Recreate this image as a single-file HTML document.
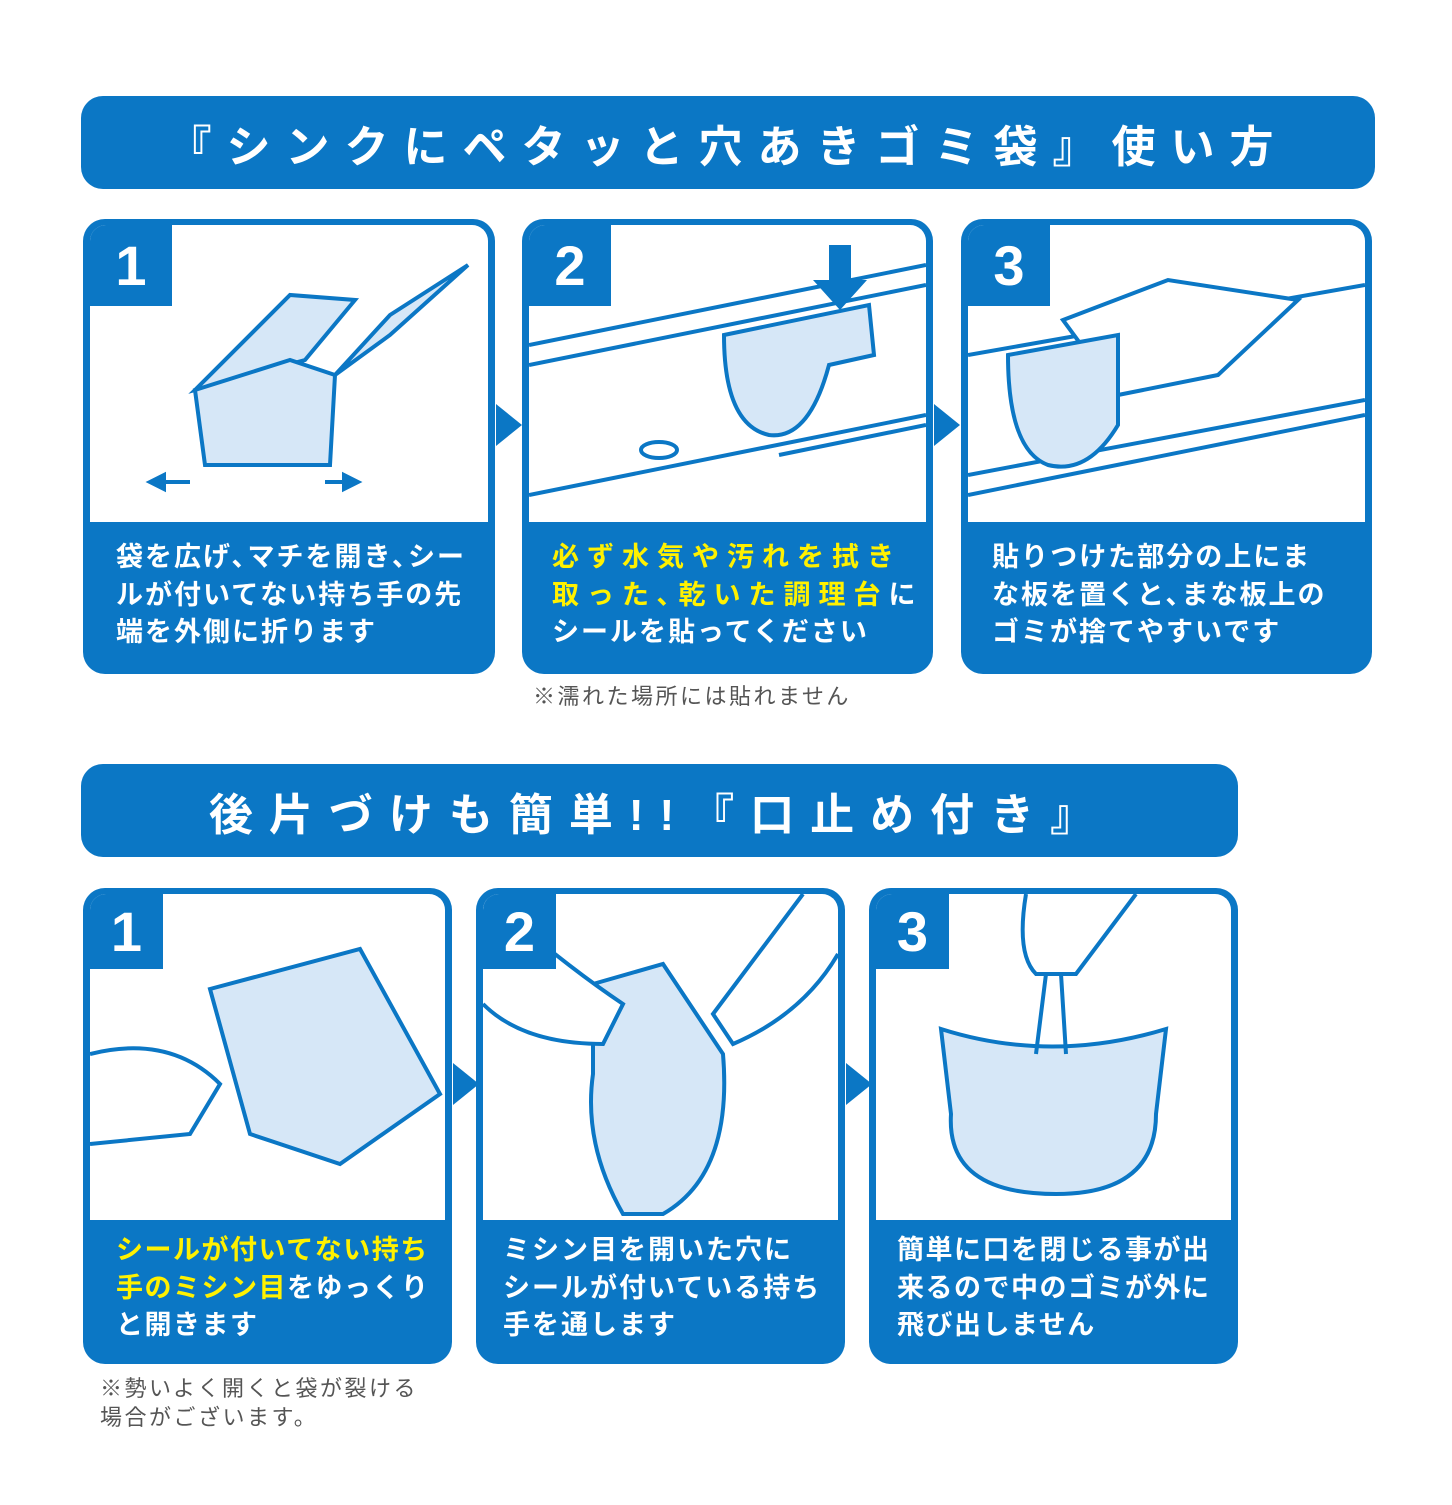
<!DOCTYPE html>
<html><head><meta charset="utf-8"><style>
body{margin:0;width:1452px;height:1505px;background:#fff;position:relative;font-family:"Liberation Sans","Noto Sans CJK JP",sans-serif;overflow:hidden}
.hdr{position:absolute;background:#0b77c5;border-radius:22px;color:#fff;font-weight:bold;font-size:44px;display:flex;align-items:center;justify-content:center}
.p{position:absolute;background:#0b77c5;border-radius:22px}
.w{position:absolute;left:7px;right:7px;top:6px;background:#fff;border-radius:16px 16px 0 0;overflow:hidden}
.n{position:absolute;left:0;top:0;background:#0b77c5;color:#fff;font-weight:bold;font-size:56px;display:flex;align-items:center;justify-content:center}
.t{position:absolute;left:33px;color:#fff;font-weight:bold;font-size:27px;line-height:37.5px;white-space:nowrap;letter-spacing:2px}
.y{color:#fff100}
.ar{position:absolute;width:0;height:0;border-top:21px solid transparent;border-bottom:21px solid transparent;border-left:26px solid #0b77c5}
.note{position:absolute;color:#555;font-size:22px;line-height:29px;letter-spacing:2.5px}
svg{position:absolute;left:0;top:0}
</style></head><body>
<div class="hdr" style="left:81px;top:96px;width:1294px;height:93px;letter-spacing:15px">『シンクにペタッと穴あきゴミ袋』使い方</div>

<div class="p" style="left:83px;top:219px;width:412px;height:455px">
 <div class="w" style="height:297px">
  <svg width="398" height="297"><g fill="#d6e7f7" stroke="#0b77c5" stroke-width="4"><path d="M105 165 L200 70 L265 75 L215 135 Z"/><path d="M105 165 L200 135 L245 150 L240 240 L115 240 Z"/><path d="M245 150 L300 90 L378 40 L300 110 Z"/></g>
  <g stroke="#0b77c5" stroke-width="4" fill="#0b77c5"><line x1="70" y1="257" x2="100" y2="257"/><path d="M60 257 L74 250 L74 264Z"/><line x1="235" y1="257" x2="258" y2="257"/><path d="M268 257 L254 250 L254 264Z"/></g></svg>
  <div class="n" style="width:82px;height:81px">1</div>
 </div>
 <div class="t" style="top:320px">袋を広げ､マチを開き､シー<br>ルが付いてない持ち手の先<br>端を外側に折ります</div>
</div>
<div class="ar" style="left:496px;top:404px"></div>

<div class="p" style="left:522px;top:219px;width:411px;height:455px">
 <div class="w" style="height:297px">
  <svg width="397" height="297"><g fill="none" stroke="#0b77c5" stroke-width="4"><path d="M0 120 L397 40"/><path d="M0 140 L397 60"/><path d="M0 270 L397 190"/><path d="M250 230 L397 200"/></g>
  <path d="M195 110 L340 80 L345 130 L300 140 Q280 215 240 210 Q195 200 195 110Z" fill="#d6e7f7" stroke="#0b77c5" stroke-width="4"/>
  <ellipse cx="130" cy="225" rx="18" ry="8" fill="none" stroke="#0b77c5" stroke-width="4"/>
  <path d="M300 20 h22 v35 h16 l-27 30 l-27 -30 h16z" fill="#0b77c5"/></svg>
  <div class="n" style="width:82px;height:81px">2</div>
 </div>
 <div class="t" style="top:320px;left:30px"><span class="y" style="letter-spacing:8px">必ず水気や汚れを拭き<br>取った､乾いた調理台</span>に<br>シールを貼ってください</div>
</div>
<div class="ar" style="left:934px;top:404px"></div>

<div class="p" style="left:961px;top:219px;width:411px;height:455px">
 <div class="w" style="height:297px">
  <svg width="397" height="297"><g fill="none" stroke="#0b77c5" stroke-width="4"><path d="M0 130 L397 60"/><path d="M0 270 L397 190"/><path d="M0 250 L397 175"/></g>
  <path d="M95 95 L200 55 L330 75 L250 150 L150 170Z" fill="#fff" stroke="#0b77c5" stroke-width="4"/>
  <path d="M40 130 L150 110 L150 200 Q120 250 80 240 Q40 225 40 130Z" fill="#d6e7f7" stroke="#0b77c5" stroke-width="4"/></svg>
  <div class="n" style="width:82px;height:81px">3</div>
 </div>
 <div class="t" style="top:320px;left:31px;letter-spacing:2px">貼りつけた部分の上にま<br>な板を置くと､まな板上の<br>ゴミが捨てやすいです</div>
</div>
<div class="note" style="left:533px;top:682px">※濡れた場所には貼れません</div>

<div class="hdr" style="left:81px;top:764px;width:1157px;height:93px;letter-spacing:16px">後片づけも簡単!!『口止め付き』</div>

<div class="p" style="left:83px;top:888px;width:369px;height:476px">
 <div class="w" style="height:326px">
  <svg width="355" height="326"><path d="M120 95 L270 55 L350 200 L250 270 L160 240 Z" fill="#d6e7f7" stroke="#0b77c5" stroke-width="4"/><path d="M0 160 Q80 140 130 190 L100 240 L0 250" fill="#fff" stroke="#0b77c5" stroke-width="4"/></svg>
  <div class="n" style="width:73px;height:75px">1</div>
 </div>
 <div class="t" style="top:344px;letter-spacing:1.5px"><span class="y">シールが付いてない持ち<br>手のミシン目</span>をゆっくり<br>と開きます</div>
</div>
<div class="ar" style="left:453px;top:1063px"></div>

<div class="p" style="left:476px;top:888px;width:369px;height:476px">
 <div class="w" style="height:326px">
  <svg width="355" height="326"><path d="M110 90 L180 70 L240 160 Q250 280 180 320 L140 320 Q100 250 110 180Z" fill="#d6e7f7" stroke="#0b77c5" stroke-width="4"/><path d="M0 0 Q80 70 140 110 L120 150 Q40 150 0 110" fill="#fff" stroke="#0b77c5" stroke-width="4"/><path d="M320 0 Q260 80 230 120 L250 150 Q320 120 355 60" fill="#fff" stroke="#0b77c5" stroke-width="4"/></svg>
  <div class="n" style="width:73px;height:75px">2</div>
 </div>
 <div class="t" style="top:344px;left:27px;letter-spacing:2px">ミシン目を開いた穴に<br>シールが付いている持ち<br>手を通します</div>
</div>
<div class="ar" style="left:846px;top:1063px"></div>

<div class="p" style="left:869px;top:888px;width:369px;height:476px">
 <div class="w" style="height:326px">
  <svg width="355" height="326"><path d="M65 135 Q175 170 290 135 L280 220 Q280 300 180 300 Q70 300 75 220Z" fill="#d6e7f7" stroke="#0b77c5" stroke-width="4"/><path d="M170 80 L160 160 M185 80 L190 160" stroke="#0b77c5" stroke-width="4"/><path d="M150 0 Q140 60 160 80 L200 80 Q230 40 260 0" fill="#fff" stroke="#0b77c5" stroke-width="4"/></svg>
  <div class="n" style="width:73px;height:75px">3</div>
 </div>
 <div class="t" style="top:344px;left:28px;letter-spacing:1.5px">簡単に口を閉じる事が出<br>来るので中のゴミが外に<br>飛び出しません</div>
</div>
<div class="note" style="left:100px;top:1374px">※勢いよく開くと袋が裂ける<br>場合がございます。</div>
</body></html>
